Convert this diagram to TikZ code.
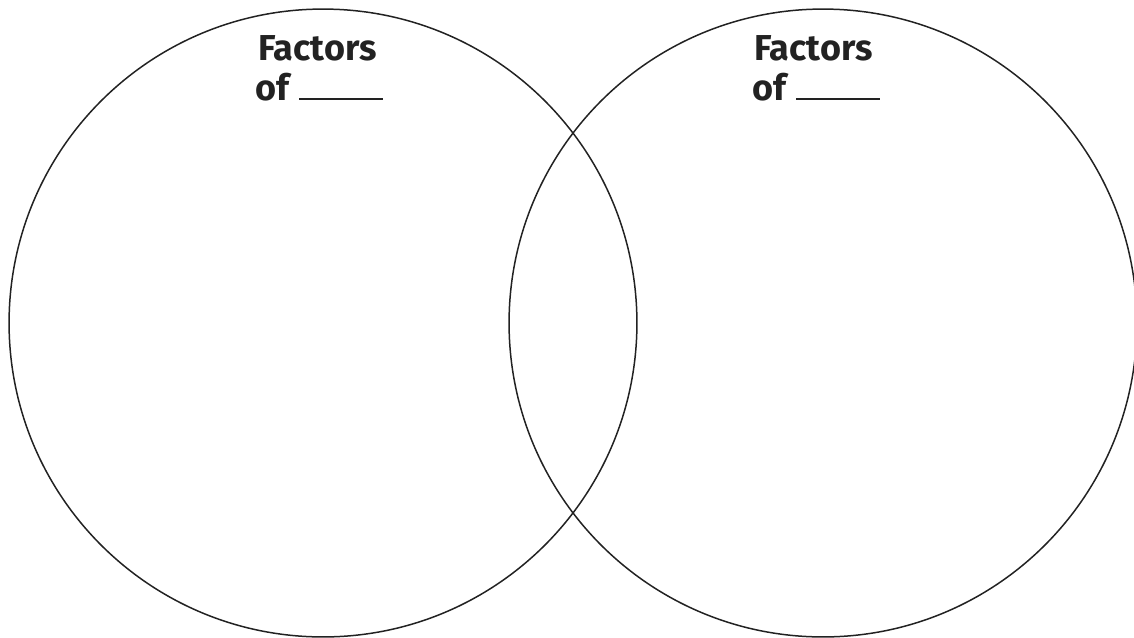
\documentclass[tikz,border=0pt]{standalone}
\usepackage{fontspec}
\setmainfont{Fira Sans}
\definecolor{ink}{HTML}{222222}
\tikzset{headtext/.style={anchor=base west,inner sep=0pt,font=\fontsize{20.5}{24}\selectfont\bfseries,text=ink}}
\begin{document}
\begin{tikzpicture}[x=0.02cm,y=-0.02cm]
\useasboundingbox (0,0) rectangle (1134,637);
\clip (0,0) rectangle (1134,637);
\coordinate (cl) at (323,323);
\coordinate (cr) at (823,323);
\draw[ink,line width=0.85pt] (cl) circle (6.28cm);
\draw[ink,line width=0.85pt] (cr) circle (6.28cm);
% left set
\node[headtext] (fl) at (258,60) {Factors};
\node[headtext] (ol) at (255,100) {of\hspace{0.2cm}\rule{1.68cm}{1.1pt}};
% right set
\node[headtext] (fr) at (754,60) {Factors};
\node[headtext] (or) at (752,100) {of\hspace{0.2cm}\rule{1.68cm}{1.1pt}};
\end{tikzpicture}
\end{document}
